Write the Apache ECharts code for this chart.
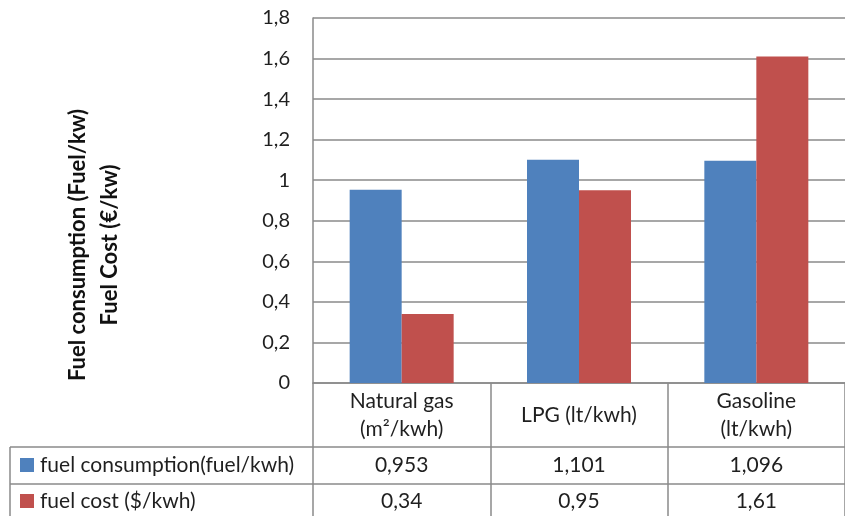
<!DOCTYPE html>
<html>
<head>
<meta charset="utf-8">
<script src="https://cdn.jsdelivr.net/npm/echarts@6/dist/echarts.min.js"></script>
<style>html,body{margin:0;padding:0;background:#fff}#c{width:845px;height:516px}</style>
</head>
<body>
<div id="c"></div>
<script>
var categories = ['Natural gas\n(m\u00b2/kwh)', 'LPG (lt/kwh)', 'Gasoline\n(lt/kwh)'];
var seriesNames = ['fuel consumption(fuel/kwh)', 'fuel cost ($/kwh)'];
var consumption = [0.953, 1.101, 1.096];
var cost = [0.34, 0.95, 1.61];
var yTicks = [0, 0.2, 0.4, 0.6, 0.8, 1, 1.2, 1.4, 1.6, 1.8];
var yTitle = 'Fuel consumption (Fuel/kw)\nFuel Cost (\u20ac/kw)';
var colors = ['#4F81BD', '#C0504D'];

var FONT = 'Lato';
var FS = 21;
var TXT = '#1f1f1f';
var LINE = '#8a8a8a';
function fmt(v){ return String(v).replace('.', ','); }

var chart = echarts.init(document.getElementById('c'), null, {renderer:'canvas'});
var option = {
  animation: false,
  textStyle: {fontFamily: FONT},
  grid: {left: 313, top: 18, right: -11, bottom: 133, containLabel: false},
  xAxis: {
    type: 'category',
    data: categories,
    axisLine: {show: true, lineStyle: {color: LINE, width: 1.5}},
    axisTick: {show: true, length: 140, lineStyle: {color: LINE, width: 1.5}},
    axisLabel: {fontFamily: FONT, fontSize: FS, color: TXT, lineHeight: 28, verticalAlign: 'middle', margin: 32, interval: 0}
  },
  yAxis: {
    type: 'value',
    min: yTicks[0], max: yTicks[yTicks.length-1], interval: 0.2,
    axisLine: {show: true, lineStyle: {color: LINE, width: 1.5}},
    axisTick: {show: false},
    splitLine: {lineStyle: {color: LINE, width: 1.5}},
    axisLabel: {fontFamily: FONT, fontSize: FS - 1, color: TXT, margin: 23, formatter: function(v){ return fmt(Math.round(v*10)/10); }}
  },
  series: [
    {name: seriesNames[0], type: 'bar', data: consumption, barWidth: 52, barGap: '0%', itemStyle: {color: colors[0]}},
    {name: seriesNames[1], type: 'bar', data: cost, barWidth: 52, barGap: '0%', itemStyle: {color: colors[1]}}
  ]
};
chart.setOption(option);

// y axis title and data table built from the arrays
var rowTop = [447, 484];
var rowMid = [465, 501];
var tableLeft = 10;
var g = [];
g.push({type:'text', x:94, y:245, rotation:Math.PI/2,
  style:{text:yTitle, font:'bold 22px '+FONT, fill:'#111', align:'center', verticalAlign:'middle', lineHeight:32}});
rowTop.forEach(function(y){
  g.push({type:'line', shape:{x1:tableLeft, y1:y, x2:845, y2:y}, style:{stroke:LINE, lineWidth:1.5}});
});
g.push({type:'line', shape:{x1:tableLeft, y1:447, x2:tableLeft, y2:516}, style:{stroke:LINE, lineWidth:1.5}});
var rows = [consumption, cost];
rows.forEach(function(vals, r){
  g.push({type:'rect', shape:{x:20, y:rowMid[r]-7, width:14, height:14}, style:{fill:colors[r]}});
  g.push({type:'text', style:{x:40, y:rowMid[r], text:seriesNames[r], font:FS+'px '+FONT, fill:TXT, verticalAlign:'middle'}});
  vals.forEach(function(v, i){
    var px = chart.convertToPixel({xAxisIndex:0}, i);
    g.push({type:'text', style:{x:px, y:rowMid[r], text:fmt(v), font:FS+'px '+FONT, fill:TXT, align:'center', verticalAlign:'middle'}});
  });
});
chart.setOption({graphic: g});
</script>
</body>
</html>
